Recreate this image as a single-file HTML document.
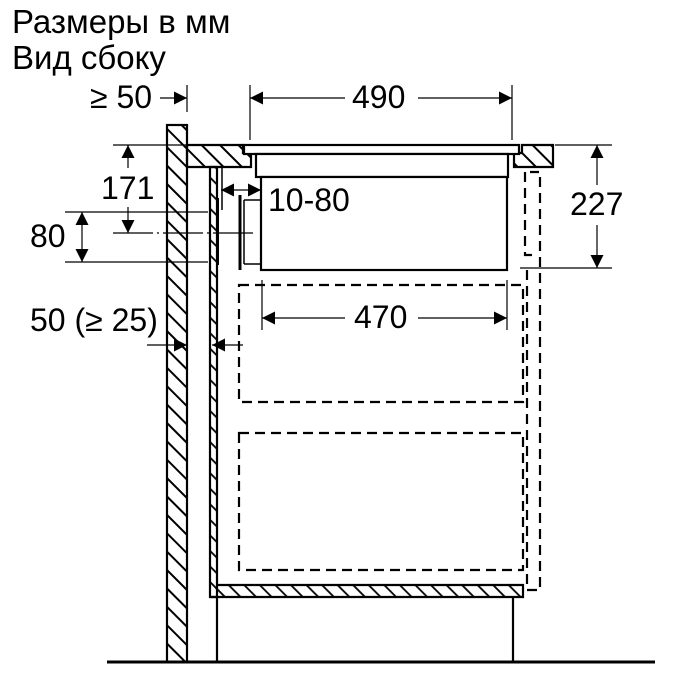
<!DOCTYPE html>
<html><head><meta charset="utf-8"><style>body{margin:0;background:#fff}svg{display:block}text{font-family:"Liberation Sans","DejaVu Sans",sans-serif;fill:#000}</style></head>
<body>
<svg width="675" height="675" viewBox="0 0 675 675" xmlns="http://www.w3.org/2000/svg">
<defs>
<pattern id="h" patternUnits="userSpaceOnUse" width="13" height="13" patternTransform="rotate(-45)">
<line x1="1" y1="0" x2="1" y2="13" stroke="#000" stroke-width="2"/></pattern>
<pattern id="h2" patternUnits="userSpaceOnUse" width="11" height="11" patternTransform="rotate(-45)">
<line x1="1" y1="0" x2="1" y2="11" stroke="#000" stroke-width="1.8"/></pattern>
<marker id="a" viewBox="0 0 10 10" refX="10" refY="5" markerWidth="20" markerHeight="13" markerUnits="userSpaceOnUse" orient="auto-start-reverse"><path d="M0,0L10,5L0,10z"/></marker>
</defs>
<text x="12" y="33" font-size="33">Размеры в мм</text>
<text x="12" y="69" font-size="33">Вид сбоку</text>

<g stroke="#000" stroke-width="1.5" fill="none">
<line x1="107" y1="662" x2="655" y2="662" stroke-width="3"/>
<rect x="167" y="125" width="20" height="537" fill="url(#h)" stroke-width="2.2"/>
<path d="M187,145H243V153H251V167H187Z" fill="url(#h)" stroke-width="2.2"/>
<path d="M553,145H522V153H514V167H553Z" fill="url(#h)" stroke-width="2.2"/>
<rect x="244" y="145" width="275" height="9" fill="#fff" stroke-width="2.2"/>
<rect x="256" y="154" width="252" height="23" fill="#fff" stroke-width="2.2"/>
<rect x="261" y="177" width="246" height="93" fill="#fff" stroke-width="2.2"/>
<line x1="240" y1="195" x2="240" y2="270" stroke-width="3"/>
<line x1="244" y1="200" x2="261" y2="200"/>
<line x1="244" y1="264" x2="261" y2="264"/>
<line x1="244" y1="200" x2="244" y2="264"/>
<line x1="218" y1="198" x2="218" y2="265" stroke-width="2"/>
<path d="M210,167H217V597H210Z" fill="url(#h2)" stroke-width="2.2"/>
<path d="M210,167H222V210" stroke-width="1.5"/>
<path d="M217,585H523V597H210" fill="url(#h2)" stroke-width="2.2"/>
<line x1="217" y1="597" x2="217" y2="662" stroke-width="2.2"/>
<line x1="513" y1="597" x2="513" y2="662" stroke-width="2.2"/>
<g stroke-dasharray="10,6" stroke-width="2.2">
<rect x="239" y="285" width="284" height="117"/>
<rect x="239" y="433" width="284" height="137"/>
<path d="M525,172V255H532M527,270V590H540V172H530"/>
</g>
<g stroke-width="1.2">
<line x1="250" y1="85" x2="250" y2="140"/>
<line x1="512" y1="85" x2="512" y2="140"/>
<line x1="250" y1="98" x2="345" y2="98" marker-start="url(#a)"/>
<line x1="418" y1="98" x2="512" y2="98" marker-end="url(#a)"/>
<line x1="187" y1="85" x2="187" y2="112"/>
<line x1="160" y1="98" x2="187" y2="98" marker-end="url(#a)"/>
<line x1="555" y1="145" x2="612" y2="145"/>
<line x1="520" y1="268" x2="612" y2="268"/>
<line x1="597" y1="145" x2="597" y2="185" marker-start="url(#a)"/>
<line x1="597" y1="225" x2="597" y2="268" marker-end="url(#a)"/>
<line x1="113" y1="145" x2="187" y2="145"/>
<line x1="128" y1="145" x2="128" y2="168" marker-start="url(#a)"/>
<line x1="128" y1="207" x2="128" y2="233" marker-end="url(#a)"/>
<line x1="65" y1="212" x2="208" y2="212"/>
<line x1="65" y1="262" x2="208" y2="262"/>
<line x1="113" y1="233" x2="255" y2="233" stroke-dasharray="40,4,2,4"/>
<line x1="82" y1="212" x2="82" y2="262" marker-start="url(#a)" marker-end="url(#a)"/>
<line x1="221" y1="190" x2="261" y2="190" marker-start="url(#a)" marker-end="url(#a)"/>
<line x1="262" y1="280" x2="262" y2="330"/>
<line x1="507" y1="280" x2="507" y2="330"/>
<line x1="262" y1="318" x2="345" y2="318" marker-start="url(#a)"/>
<line x1="418" y1="318" x2="507" y2="318" marker-end="url(#a)"/>
<line x1="147" y1="345" x2="187" y2="345" marker-end="url(#a)"/>
<line x1="243" y1="345" x2="212" y2="345" marker-end="url(#a)"/>
</g>
</g>
<text x="352" y="108" font-size="32">490</text>
<text x="90" y="108" font-size="32">≥ 50</text>
<text x="570" y="215" font-size="32">227</text>
<text x="101" y="199" font-size="32">171</text>
<text x="30" y="247" font-size="32">80</text>
<text x="268" y="211" font-size="32">10-80</text>
<text x="354" y="328" font-size="32">470</text>
<text x="30" y="331" font-size="32">50 (≥ 25)</text>
</svg>
</body></html>
